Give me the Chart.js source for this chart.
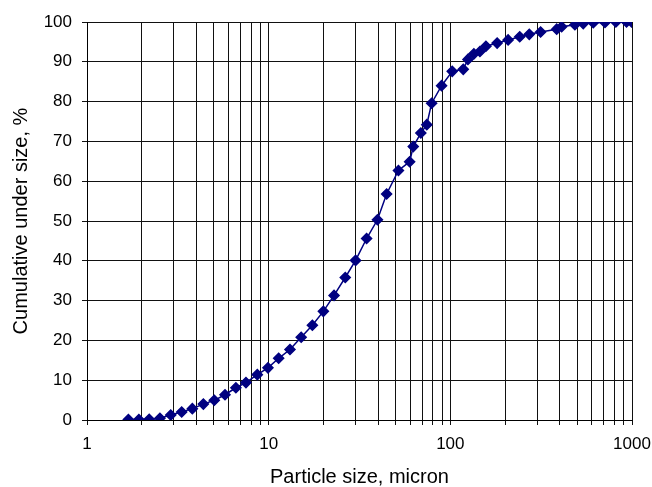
<!DOCTYPE html>
<html>
<head>
<meta charset="utf-8">
<script src="https://cdn.jsdelivr.net/npm/chart.js@4"></script>
<style>
  html, body { margin: 0; padding: 0; background: #fff; }
  #wrap { width: 652px; height: 487px; }
</style>
</head>
<body>
<div id="wrap"><canvas id="psdChart"></canvas></div>
<script>
// ── Data ──────────────────────────────────────
const sizes = [
  1.69, 1.93, 2.2, 2.52, 2.89, 3.32, 3.8, 4.37, 5.02, 5.75,
  6.6, 7.5, 8.66, 9.91, 11.35, 13.1, 15.1, 17.4, 20.0, 22.9,
  26.4, 30.1, 34.6, 39.7, 44.6, 51.8, 59.7, 62.5, 68.8, 74.2,
  78.9, 89.5, 102.4, 117.8, 125, 134.8, 145.5, 157, 181, 208,
  241, 272, 314, 385, 410, 485, 539, 612, 710, 815, 933, 995
];
const cumUnder = [
  0.1, 0.1, 0.2, 0.45, 1.25, 2.0, 2.85, 4.0, 4.95, 6.35,
  8.1, 9.4, 11.4, 13.1, 15.5, 17.7, 20.8, 23.8, 27.3, 31.3,
  35.8, 40.1, 45.6, 50.3, 56.8, 62.7, 64.9, 68.7, 72.1, 74.2,
  79.6, 84.0, 87.6, 88.1, 90.6, 92.0, 92.6, 93.9, 94.7, 95.5,
  96.3, 96.9, 97.5, 98.2, 98.8, 99.3, 99.6, 99.8, 99.9, 100, 100, 100
];
const xDecades  = [1, 10, 100, 1000];
const yTicks    = [0, 10, 20, 30, 40, 50, 60, 70, 80, 90, 100];

const NAVY       = '#000080';
const TICK_FONT  = { family: 'Liberation Sans, Arial, sans-serif', size: 17 };
const TITLE_FONT = { family: 'Liberation Sans, Arial, sans-serif', size: 20, lineHeight: 1 };

// 1,2,...,9,10,20,... gridlines across the decades
function logGrid() {
  const out = [];
  for (let i = 0; i < xDecades.length - 1; i++)
    for (let m = 1; m < 10; m++) out.push(xDecades[i] * m);
  out.push(xDecades[xDecades.length - 1]);
  return out;
}

new Chart(document.getElementById('psdChart').getContext('2d'), {
  type: 'line',
  data: {
    datasets: [{
      data:             sizes.map((s, i) => ({ x: s, y: cumUnder[i] })),
      borderColor:      NAVY,
      backgroundColor:  NAVY,
      borderWidth:      1.5,
      pointStyle:       'rectRot',
      pointRadius:      5,
      pointHoverRadius: 5,
      tension:          0,
    }]
  },
  options: {
    responsive: true,
    maintainAspectRatio: false,
    animation: false,
    layout: { padding: { left: 0, top: 22, right: 20, bottom: 0 } },
    plugins: { legend: { display: false }, tooltip: { enabled: false } },
    scales: {
      x: {
        type: 'logarithmic',
        min: 1,
        max: 1000,
        afterBuildTicks: s => { s.ticks = logGrid().map(v => ({ value: v })); },
        afterFit: s => { s.height = 67; s.paddingLeft = 0; s.paddingRight = 0; },
        grid:   { color: '#111', lineWidth: 1, tickLength: 5, drawTicks: true },
        border: { color: '#000', width: 1 },
        ticks: {
          autoSkip: false,
          maxRotation: 0,
          padding: 9,
          color: '#000',
          font: TICK_FONT,
          callback: v => xDecades.includes(v) ? String(v) : ''
        },
        title: {
          display: true,
          text: 'Particle size, micron',
          color: '#000',
          font: TITLE_FONT,
          padding: { top: 8, bottom: 0 }
        }
      },
      y: {
        min: 0,
        max: 100,
        afterBuildTicks: s => { s.ticks = yTicks.map(v => ({ value: v })); },
        afterFit: s => { s.width = 87; s.paddingTop = 0; s.paddingBottom = 0; },
        grid:   { color: '#111', lineWidth: 1, tickLength: 5 },
        border: { color: '#000', width: 1 },
        ticks:  { padding: 10, color: '#000', font: TICK_FONT },
        title: {
          display: true,
          text: 'Cumulative under size, %',
          color: '#000',
          font: TITLE_FONT,
          padding: { top: 11, bottom: 0 }
        }
      }
    }
  }
});
</script>
</body>
</html>
